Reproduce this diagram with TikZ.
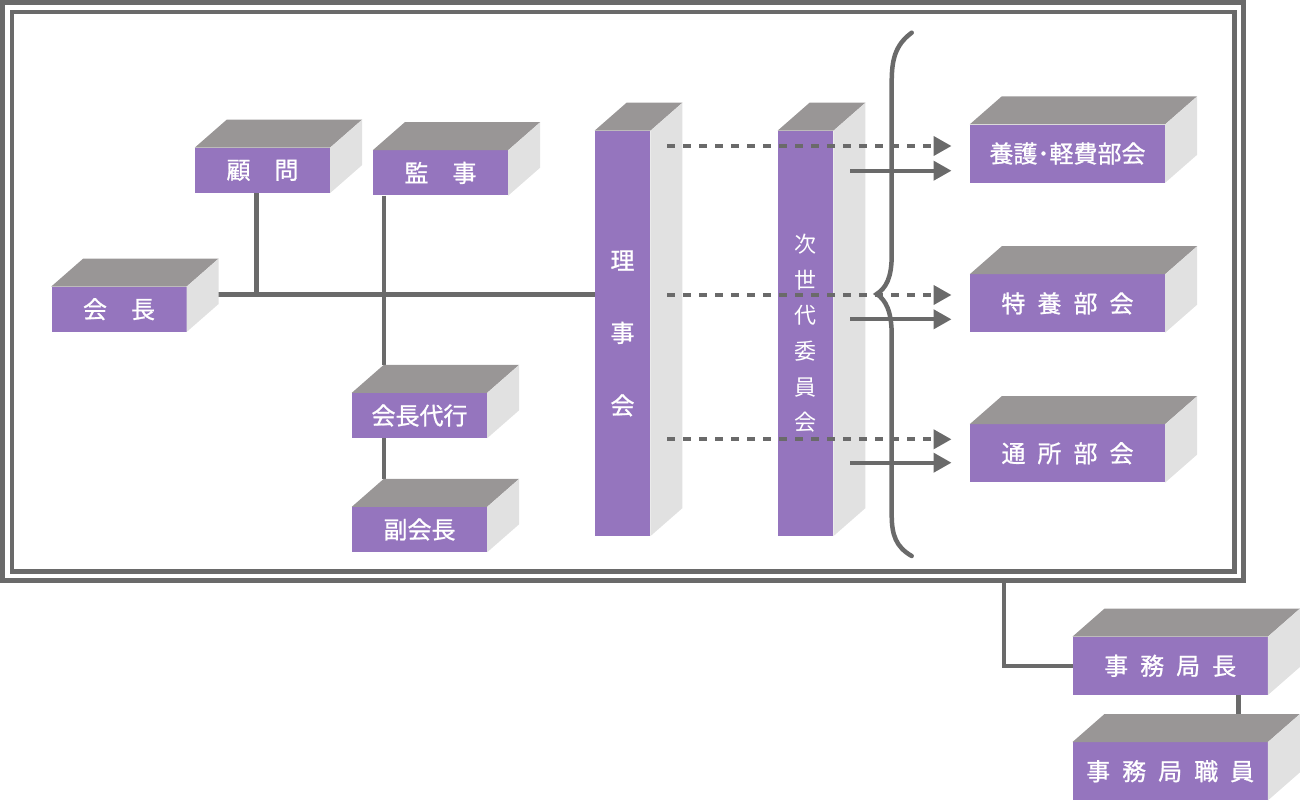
\documentclass[tikz,border=0pt]{standalone}
\usepackage{fontspec}
\newfontfamily\cjk[FakeBold=0.9]{Noto Sans CJK JP}
\newfontfamily\cjklight{Noto Sans CJK JP}
\usetikzlibrary{calc,arrows.meta}
\definecolor{boxfront}{HTML}{9575BE}
\definecolor{boxtop}{HTML}{999696}
\definecolor{boxside}{HTML}{E1E1E1}
\definecolor{linegray}{HTML}{6A6A6A}
\pgfdeclarelayer{bg}
\pgfsetlayers{bg,main}
\newcommand\boxfaces[1]{%
  \fill[boxtop] (#1.north west) -- ++(32,-28) -- ($(#1.north east)+(32,-28)$) -- (#1.north east) -- cycle;
  \fill[boxside] (#1.north east) -- ++(32,-28) -- ($(#1.south east)+(32,-28)$) -- (#1.south east) -- cycle;}
\begin{document}
\begin{tikzpicture}[x=1pt,y=-1pt,
  front/.style={fill=boxfront, inner sep=0pt, text=white, font=\cjk\fontsize{24}{28}\selectfont},
  small/.style={front, minimum width=135pt, minimum height=45pt},
  wide/.style={front, minimum width=195pt, minimum height=58pt},
  tall/.style={front, minimum width=55.5pt, minimum height=405pt, align=center},
  conn/.style={draw=linegray, line width=4.5pt},
  framel/.style={draw=linegray, line width=4.8pt},
  arr/.style={draw=linegray, line width=4pt, -{Triangle[length=18pt,width=19pt]}},
  dasharr/.style={arr, dash pattern=on 8pt off 8pt},
  bracel/.style={draw=linegray, line width=4.5pt, line cap=round}]
\useasboundingbox (0,0) rectangle (1300,800);

% boxes
\node[small] (kaicho) at (119,309.2) {会\hspace{1em}長};
\boxfaces{kaicho}
\node[small] (komon) at (262.5,170.3) {顧\hspace{1em}問};
\boxfaces{komon}
\node[small] (kanji) at (440.5,172.9) {監\hspace{1em}事};
\boxfaces{kanji}
\node[small] (dairi) at (419.5,415.5) {会長代行};
\boxfaces{dairi}
\node[small] (fuku) at (419.5,529.5) {副会長};
\boxfaces{fuku}
\node[tall, font=\cjk\fontsize{24}{72.5}\selectfont] (rijikai) at (622.5,333.4) {理\\事\\会};
\boxfaces{rijikai}
\node[tall, font=\cjklight\fontsize{22}{35.7}\selectfont] (jisedai) at (805.5,333.4) {次\\世\\代\\委\\員\\会};
\boxfaces{jisedai}
\node[wide] (yogo) at (1067.5,153.5) {養護･軽費部会};
\boxfaces{yogo}
\node[wide] (tokuyo) at (1067.5,303.4) {特\hspace{0.5em}養\hspace{0.5em}部\hspace{0.5em}会};
\boxfaces{tokuyo}
\node[wide] (tsusho) at (1067.5,453.3) {通\hspace{0.5em}所\hspace{0.5em}部\hspace{0.5em}会};
\boxfaces{tsusho}
\node[wide] (kyokucho) at (1170.2,665.8) {事\hspace{0.5em}務\hspace{0.5em}局\hspace{0.5em}長};
\boxfaces{kyokucho}
\node[wide] (shokuin) at (1170.2,771.2) {事\hspace{0.5em}務\hspace{0.5em}局\hspace{0.5em}職\hspace{0.5em}員};
\boxfaces{shokuin}

% frame and solid connectors (behind boxes)
\begin{pgfonlayer}{bg}
  \draw[framel] (2.3,2.2) rectangle (1243.7,580.8);
  \draw[framel] (12,12) rectangle (1234.2,571.5);
  \coordinate (fb) at (1004,580.8);
  \coordinate (hl) at (0,294.3);
  \coordinate (kl) at ($(komon.south west)+(61.7,0)$);
  \draw[conn] (kaicho.east |- hl) -- (rijikai.west |- hl);
  \draw[conn] (kl) -- (kl |- hl);
  \draw[conn] ($(kanji.south west)+(11,0)$) -- ($(dairi.north west)+(32,-28)$);
  \draw[conn] ($(dairi.south west)+(32,0)$) -- ($(fuku.north west)+(32,-28)$);
  \draw[conn] (fb) |- (kyokucho.west);
  \draw[conn] ($(kyokucho.south east)+(-29.5,0)$) -- ($(shokuin.north east)+(-29.5,-28)$);
\end{pgfonlayer}

% arrows to the sections
\draw[dasharr] ($(rijikai.east |- yogo.west)+(16.7,-7.5)$) -- ($(yogo.west)+(-18.3,-7.5)$);
\draw[arr] ($(jisedai.east |- yogo.west)+(16.7,17.2)$) -- ($(yogo.west)+(-18.3,17.2)$);
\draw[dasharr] ($(rijikai.east |- tokuyo.west)+(16.7,-8.4)$) -- ($(tokuyo.west)+(-18.3,-8.4)$);
\draw[arr] ($(jisedai.east |- tokuyo.west)+(16.7,15.9)$) -- ($(tokuyo.west)+(-18.3,15.9)$);
\draw[dasharr] ($(rijikai.east |- tsusho.west)+(16.7,-14)$) -- ($(tsusho.west)+(-18.3,-14)$);
\draw[arr] ($(jisedai.east |- tsusho.west)+(16.7,9.4)$) -- ($(tsusho.west)+(-18.3,9.4)$);

% brace
\draw[bracel] (911.7,32.7) .. controls (895,45) and (891.7,60) .. (891.7,82)
  -- (891.7,255) .. controls (891.7,278) and (886,288) .. (876.7,294)
  .. controls (886,300) and (891.7,312) .. (891.7,335)
  -- (891.7,515) .. controls (891.7,535) and (896,547) .. (911.7,556);
\end{tikzpicture}
\end{document}
